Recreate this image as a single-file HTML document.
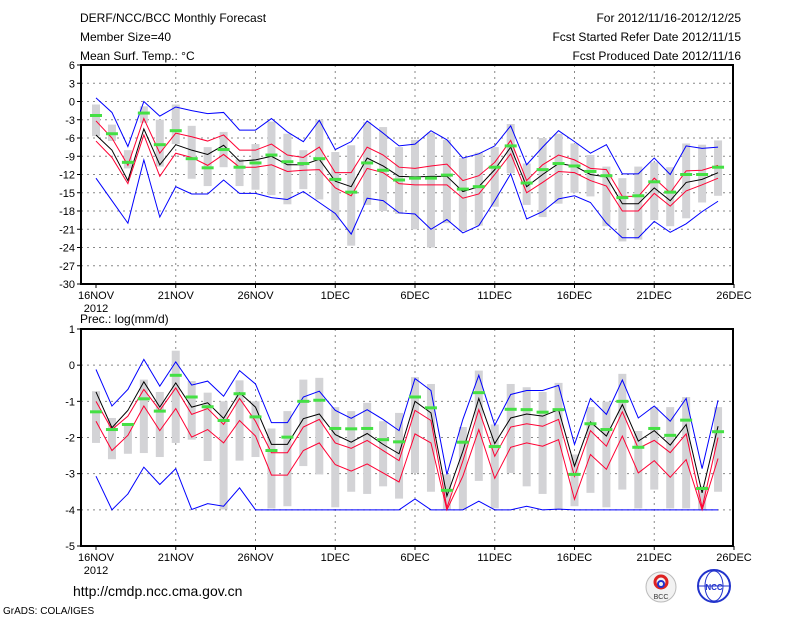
<!DOCTYPE html>
<html><head><meta charset="utf-8"><style>
body{margin:0;background:#fff;}
svg{display:block;font-family:"Liberation Sans",sans-serif;}
</style></head><body>
<svg id="chart" width="800" height="618" xmlns="http://www.w3.org/2000/svg">
<rect width="800" height="618" fill="#fff"/>
<g font-size="12" fill="#000">
<text x="80" y="22">DERF/NCC/BCC Monthly Forecast</text>
<text x="80" y="41">Member Size=40</text>
<text x="80" y="60">Mean Surf. Temp.: °C</text>
<text x="741" y="22" text-anchor="end">For 2012/11/16-2012/12/25</text>
<text x="741" y="41" text-anchor="end">Fcst Started Refer Date 2012/11/15</text>
<text x="741" y="60" text-anchor="end">Fcst Produced Date 2012/11/16</text>
<text x="80" y="323">Prec.: log(mm/d)</text>
<text x="73" y="596" font-size="14">http://cmdp.ncc.cma.gov.cn</text>
<text x="3" y="614" font-size="10">GrADS: COLA/IGES</text>
</g>
<g>
<circle cx="661" cy="587" r="15" fill="#f2f2f2" stroke="#bbb"/>
<circle cx="661" cy="582" r="6" fill="none" stroke="#d22" stroke-width="3"/>
<circle cx="661" cy="584" r="3" fill="none" stroke="#23c" stroke-width="2"/>
<text x="661" y="599" font-size="7" text-anchor="middle" fill="#333">BCC</text>
</g>
<g>
<circle cx="714" cy="586" r="16" fill="#fff" stroke="#23c" stroke-width="2"/>
<ellipse cx="714" cy="586" rx="9" ry="15" fill="none" stroke="#23c"/>
<line x1="698" y1="586" x2="730" y2="586" stroke="#23c"/>
<text x="714" y="590" font-size="8" text-anchor="middle" fill="#23c" font-weight="bold">NCC</text>
</g>
<g id="plots"></g>
</svg>
<script>
const dayLabels=["16NOV","21NOV","26NOV","1DEC","6DEC","11DEC","16DEC","21DEC","26DEC"];
// Temperature panel
const tMean=[-5.5,-8,-13,-4.5,-10.4,-7.1,-8,-8.7,-7.2,-9.8,-9.6,-9,-10.4,-10.4,-9.5,-13.1,-14,-9.3,-10.6,-12.3,-12.4,-12.3,-12.3,-14.8,-14,-11.2,-7.5,-14,-12,-10.2,-10.6,-12,-12.4,-16.8,-16.8,-14.2,-16.3,-13.3,-12.8,-11.7];
const tRedHi=[-3.2,-6,-10.5,-2.8,-8.5,-5.2,-5.8,-6.5,-5.5,-8,-8,-7,-8.8,-9.2,-7.5,-11.7,-11.7,-7.5,-8.8,-10.8,-11,-10.6,-10.3,-13,-12.2,-10,-6.4,-13,-10.4,-8.8,-9.6,-11,-11.2,-15.6,-15.6,-12.6,-15,-11.4,-11.3,-10.5];
const tRedLo=[-6.5,-9.2,-13.5,-5.5,-12.3,-8.5,-9.2,-10.5,-8.7,-10.8,-10.8,-10.4,-11.5,-11.3,-11.2,-14.2,-15.5,-11,-11.7,-13.5,-13.7,-13.7,-13.7,-15.9,-15.2,-12,-8.6,-15,-13.3,-11.5,-11.7,-13,-13.9,-18,-18,-15.1,-17.2,-14.7,-13.7,-12.6];
const tBlueHi=[0.6,-1.8,-7.4,0,-2.4,-0.9,-1.5,-2,-1.8,-4.7,-4.7,-2.8,-5,-6.6,-3.1,-7.9,-6.6,-3.2,-5.2,-7.3,-7,-4.8,-6.3,-9.3,-8.6,-7.3,-4,-10.4,-7.5,-4.8,-6.6,-8.5,-7.1,-11.9,-11.9,-9.3,-12,-7.3,-7.7,-7.5];
const tBlueLo=[-12.6,-16.3,-20,-9.6,-19,-14,-15.2,-15.2,-12.9,-15.1,-15.1,-15.8,-16.1,-14.8,-16.6,-18.4,-21.8,-15.9,-16.3,-18.3,-18.5,-21,-19.4,-21.6,-20.4,-16.3,-11.9,-19.3,-18.1,-16,-15.5,-16.6,-20,-22.4,-22.4,-19.7,-21.5,-20.1,-18.1,-16.4];
const tObs=[-2.3,-5.3,-10,-1.9,-7.1,-4.8,-9.4,-10.9,-7.9,-10.8,-10.1,-8.8,-9.9,-10.2,-9.4,-12.8,-14.9,-10.1,-11.3,-12.9,-12.6,-12.6,-12.1,-14.4,-14,-10.8,-7.3,-13.4,-11.2,-10.2,-10.6,-11.5,-12.2,-15.8,-15.5,-13.2,-14.9,-12,-12,-10.8];
const tBarHi=[-0.5,-3.8,-8,-0.8,-3,-0.5,-4,-7.5,-5,-9.5,-7,-3.3,-5.3,-8,-3,-8.3,-7.2,-3.4,-4.2,-7.5,-6.3,-5.1,-6.3,-9.3,-8.4,-7.5,-3.7,-10.2,-6,-5.3,-6.9,-8.8,-10.7,-12.6,-10.7,-10,-10.8,-6.9,-7.1,-6.4];
const tBarLo=[-5.7,-6.5,-11,-3.5,-10.7,-7,-12.7,-13.9,-10.8,-13.9,-14.5,-15.4,-16.9,-14.4,-16.1,-19.5,-23.7,-17,-18,-18.5,-21,-24,-20,-21.3,-20.4,-17.3,-11.8,-17,-19,-16.8,-15,-15.6,-20.5,-23,-22.7,-19.5,-20.5,-19.2,-16.6,-15.5];
const tTicks=[6,3,0,-3,-6,-9,-12,-15,-18,-21,-24,-27,-30];
// Precipitation panel
const pMean=[-0.74,-1.73,-1.25,-0.46,-1.16,-0.49,-1.16,-1.04,-1.47,-0.76,-1.16,-2.19,-2.19,-1.48,-1.35,-1.92,-2.13,-1.89,-2.19,-2.45,-1.0,-1.32,-3.62,-2.38,-0.92,-2.17,-1.46,-1.35,-1.41,-1.23,-2.79,-1.57,-1.96,-1.09,-2.1,-1.81,-2.21,-1.64,-3.53,-1.69];
const pRedHi=[-1,-1.78,-1.41,-0.67,-1.25,-0.63,-1.36,-1.2,-1.64,-0.92,-1.55,-2.42,-2.42,-1.71,-1.5,-2.15,-2.3,-2.08,-2.36,-2.64,-1.25,-1.53,-3.94,-2.65,-1.23,-2.52,-1.71,-1.62,-1.69,-1.5,-3.07,-1.81,-2.24,-1.29,-2.3,-2.08,-2.42,-1.9,-3.94,-2];
const pRedLo=[-1.55,-2.36,-1.94,-1.13,-1.81,-1.2,-1.99,-1.78,-2.15,-1.53,-1.96,-3.04,-3.04,-2.36,-2.15,-2.75,-2.93,-2.73,-2.98,-3.23,-1.9,-2.15,-4,-3.07,-1.78,-3.13,-2.27,-2.15,-2.24,-2.06,-3.71,-2.47,-2.88,-1.96,-2.98,-2.64,-3.1,-2.61,-4,-2.58];
const pBlueHi=[-0.12,-1.13,-0.67,0.16,-0.58,0.09,-0.55,-0.44,-0.86,-0.15,-0.52,-1.59,-1.59,-0.88,-0.72,-1.25,-1.47,-1.23,-1.5,-1.81,-0.37,-0.7,-3.02,-1.5,-0.28,-1.66,-0.81,-0.7,-0.7,-0.56,-2.19,-0.92,-1.36,-0.41,-1.46,-1.13,-1.55,-0.92,-2.86,-0.97];
const pBlueLo=[-3.07,-4,-3.56,-2.82,-3.3,-2.86,-3.99,-3.83,-3.9,-3.39,-4,-4,-4,-4,-4,-4,-4,-4,-4,-4,-3.7,-4,-4,-4,-3.76,-4,-4,-3.9,-4,-3.98,-4,-4,-4,-4,-4,-4,-4,-4,-4,-4];
const pObs=[-1.29,-1.78,-1.64,-0.93,-1.27,-0.28,-0.88,-1.15,-1.53,-0.79,-1.43,-2.36,-1.99,-1.0,-0.97,-1.75,-1.76,-1.75,-2.06,-2.12,-0.88,-1.18,-3.46,-2.13,-0.76,-2.25,-1.22,-1.23,-1.3,-1.23,-3.02,-1.62,-1.78,-1.0,-2.27,-1.75,-1.94,-1.52,-3.41,-1.84];
const pBarHi=[-0.72,-1.46,-1.6,-0.4,-0.74,0.4,-0.44,-0.76,-1,-0.42,-1,-1.75,-1.27,-0.4,-0.35,-1.16,-1.27,-1.04,-1.55,-1.32,-0.33,-0.52,-3.02,-1.71,-0.15,-1.64,-0.52,-0.61,-0.74,-0.49,-2.47,-1.16,-1.01,-0.24,-1.82,-1.16,-1.16,-0.88,-3.35,-1.16];
const pBarLo=[-2.15,-2.6,-2.45,-2.43,-2.54,-2.15,-2.06,-2.65,-3.99,-2.64,-2.54,-3.96,-3.9,-2.79,-3.02,-3.93,-3.5,-3.56,-3.35,-3.69,-2.98,-3.5,-4,-4,-3.2,-3.96,-2.98,-3.35,-3.56,-3.99,-3.9,-3.53,-3.93,-3.44,-3.96,-3.44,-3.96,-3.96,-4,-3.5];
const pTicks=[1,0,-1,-2,-3,-4,-5];

const NS="http://www.w3.org/2000/svg";
const root=document.getElementById('plots');
const X0=81,X1=733,D0=96,DAY=15.95;
function xd(i){return D0+i*DAY;}
function mk(tag,attrs,parent){const e=document.createElementNS(NS,tag);for(const k in attrs)e.setAttribute(k,attrs[k]);(parent||root).appendChild(e);return e;}

function panel(name,top,bot,vmax,vmin,ticks,S){
  const g=mk('g',{});
  
  
  const y=v=>top+(vmax-v)/(vmax-vmin)*(bot-top);
  ticks.forEach(t=>{
    if(t!==vmax&&t!==vmin){const l=mk('line',{x1:X0,x2:X1,y1:y(t),y2:y(t),stroke:'#888','stroke-dasharray':'2,4','stroke-width':1},g);
    
    }
    mk('line',{x1:X0-4,x2:X0,y1:y(t),y2:y(t),stroke:'#000'},g);
    const tx=mk('text',{x:X0-6,y:y(t)+4,'text-anchor':'end','font-size':11},g);
    tx.textContent=t;
    
    
  });
  dayLabels.forEach((lb,i)=>{
    const xx=D0+i*5*DAY;
    if(i>0&&i<8){const l=mk('line',{x1:xx,x2:xx,y1:top,y2:bot,stroke:'#888','stroke-dasharray':'2,4'},g);
    
    }
    mk('line',{x1:xx,x2:xx,y1:bot,y2:bot+4,stroke:'#000'},g);
    const tx=mk('text',{x:xx,y:bot+15,'text-anchor':'middle','font-size':11},g);
    tx.textContent=lb;
    
    
  });
  const yr=mk('text',{x:D0,y:bot+28,'text-anchor':'middle','font-size':11},g);
  yr.textContent='2012';
  
  
  S.barHi.forEach((h,i)=>{
    const r=mk('rect',{x:xd(i)-4,y:y(h),width:8,height:y(S.barLo[i])-y(h),fill:'#d3d3d6'},g);
    
    
  });
  const line=(arr,col,nm)=>{
    const p=mk('polyline',{points:arr.map((v,i)=>xd(i)+','+y(v)).join(' '),fill:'none',stroke:col,'stroke-width':1},g);
    
    
  };
  line(S.blueHi,'#0000ff','max-line');
  line(S.blueLo,'#0000ff','min-line');
  line(S.redHi,'#ff0033','upper-spread-line');
  line(S.redLo,'#ff0033','lower-spread-line');
  line(S.mean,'#000','ensemble-mean-line');
  S.obs.forEach((v,i)=>{
    const r=mk('rect',{x:xd(i)-6,y:y(v)-1.5,width:12,height:3,fill:'#44e044'},g);
    
    
  });
  const f=mk('rect',{x:X0,y:top,width:X1-X0,height:bot-top,fill:'none',stroke:'#000','stroke-width':2},g);
  
  
}
panel('temperature',65,284,6,-30,tTicks,{mean:tMean,redHi:tRedHi,redLo:tRedLo,blueHi:tBlueHi,blueLo:tBlueLo,obs:tObs,barHi:tBarHi,barLo:tBarLo});
panel('precipitation',329,546,1,-5,pTicks,{mean:pMean,redHi:pRedHi,redLo:pRedLo,blueHi:pBlueHi,blueLo:pBlueLo,obs:pObs,barHi:pBarHi,barLo:pBarLo});
</script>
</body></html>
